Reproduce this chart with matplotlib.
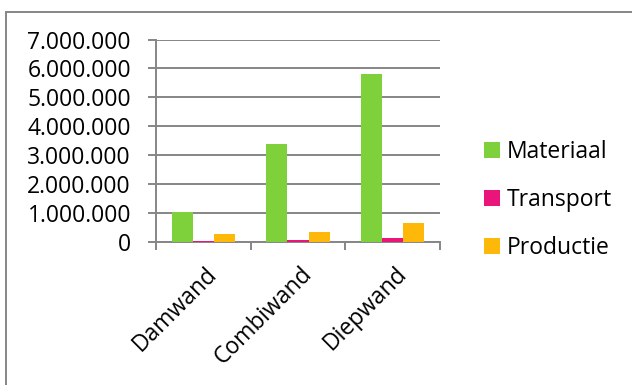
import numpy as np
import matplotlib
matplotlib.use("Agg")
import matplotlib.pyplot as plt
from matplotlib.patches import Rectangle
from matplotlib.ticker import FuncFormatter

# kosten per wandtype
categories = ["Damwand", "Combiwand", "Diepwand"]
materiaal = [1020000, 3380000, 5800000]
transport = [10000, 55000, 115000]
productie = [250000, 320000, 630000]

series = ["Materiaal", "Transport", "Productie"]
colors = ["#7FD13B", "#EA157A", "#FEB80A"]
grid_c = "#868686"

plt.rcParams["font.family"] = ["Open Sans", "DejaVu Sans"]
fs = 16.5

fig = plt.figure(figsize=(6.32, 3.85), dpi=100)
ax = fig.add_axes([156 / 632, 1 - 241.5 / 385, 284 / 632, 202 / 385])

x = np.arange(len(categories))
w = 1 / 4.5
for i, (vals, name, c) in enumerate(zip([materiaal, transport, productie], series, colors)):
    ax.bar(x + (i - 1) * w, vals, width=w, color=c, label=name, zorder=3)

ax.set_xlim(-0.5, 2.5)
ax.set_ylim(0, 7000000)
ax.set_yticks(np.arange(0, 7000001, 1000000))
ax.yaxis.set_major_formatter(FuncFormatter(lambda v, p: f"{int(v):,}".replace(",", ".")))
ax.yaxis.grid(True, color=grid_c, linewidth=1.4, zorder=0)

# categorie-as: tickmarks op de grenzen, labels in het midden
ax.set_xticks(x + 0.02)
ax.set_xticklabels(categories, rotation=45, ha="right", va="top", rotation_mode="anchor", fontsize=fs)
ax.tick_params(axis="x", which="major", length=0, pad=15)
ax.set_xticks([-0.5, 0.5, 1.5, 2.5], minor=True)
ax.tick_params(axis="x", which="minor", length=6, width=1.4, color=grid_c, direction="out")
ax.tick_params(axis="y", length=6, width=1.4, color=grid_c, labelsize=fs, pad=12)

for s in ["top", "right"]:
    ax.spines[s].set_visible(False)
for s in ["left", "bottom"]:
    ax.spines[s].set_color(grid_c)
    ax.spines[s].set_linewidth(1.4)

fig.legend(loc="center left", bbox_to_anchor=(463 / 632, 1 - 200 / 385), frameon=False,
           fontsize=fs, handlelength=0.7, handleheight=0.7, handletextpad=0.3,
           labelspacing=1.05)

# kader om de grafiek
fig.patches.append(Rectangle((6 / 632, -0.1), 1.2, 1 - 12 / 385 + 0.1, transform=fig.transFigure,
                             fill=False, edgecolor=grid_c, linewidth=1.4))

fig.savefig("out.png", dpi=100)
